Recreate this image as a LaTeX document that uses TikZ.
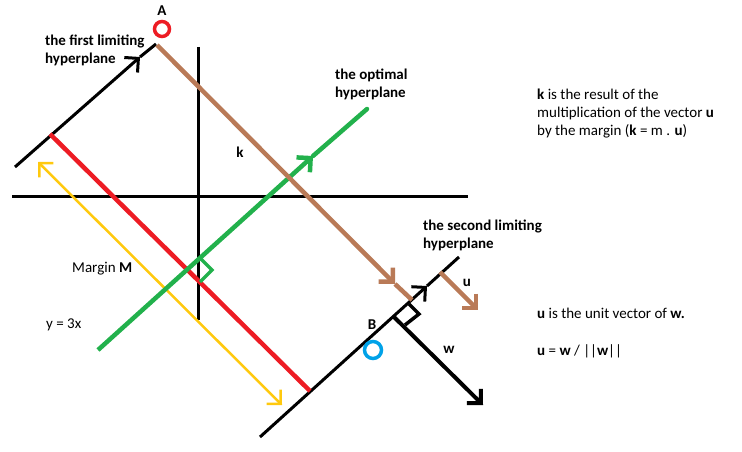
\documentclass[tikz,border=0pt]{standalone}
\usepackage{fontspec}
\setmainfont{Carlito}
\usetikzlibrary{arrows.meta}
\definecolor{pred}{RGB}{237,28,36}
\definecolor{pbrown}{RGB}{185,122,87}
\definecolor{pgreen}{RGB}{34,177,76}
\definecolor{pyellow}{RGB}{255,201,14}
\definecolor{pblue}{RGB}{0,162,232}
\tikzset{
  lbl/.style={inner sep=0pt, font=\fontsize{15}{18}\selectfont, align=left},
  blbl/.style={lbl, font=\fontsize{15}{18}\selectfont\bfseries},
  barb/.style={-{Straight Barb[length=10pt,width=20pt]}},
  thinblack/.style={line width=3pt, black},
  thickln/.style={line width=4.5pt},
}
\begin{document}
\begin{tikzpicture}[x=1pt,y=-1pt]
\useasboundingbox (0,0) rectangle (742,452);
% coordinates
\coordinate (F1) at (15,167); \coordinate (Fm) at (140,57); \coordinate (F2) at (156,44);
\coordinate (V1) at (198,47); \coordinate (V2) at (198,320);
\coordinate (H1) at (12,196); \coordinate (H2) at (468,196);
\coordinate (R1) at (50,134); \coordinate (R2) at (310,391);
\coordinate (K1) at (157,45); \coordinate (Km) at (395,284); \coordinate (K2) at (412,300);
\coordinate (G1) at (98,350); \coordinate (Gm) at (313,156); \coordinate (G2) at (367,109);
\coordinate (Y1) at (38,162); \coordinate (Y2) at (282,405);
\coordinate (S1) at (260,437); \coordinate (Sm) at (427,286); \coordinate (S2) at (459,257);
\coordinate (U1) at (440,272); \coordinate (U2) at (478,310);
\coordinate (W1) at (393,316); \coordinate (W2) at (483,405);
% axes
\draw[thinblack] (V1) -- (V2);
\draw[thinblack] (H1) -- (H2);
% first limiting hyperplane
\draw[thinblack, barb] (F1) -- (Fm);
\draw[thinblack] (Fm) -- (F2);
% second limiting hyperplane
\draw[thinblack, barb] (S1) -- (Sm);
\draw[thinblack] (Sm) -- (S2);
% margin (red)
\draw[pred, thickln] (R1) -- (R2);
% yellow margin arrow
\draw[pyellow, line width=2.5pt, {Straight Barb[length=10pt,width=20pt]}-{Straight Barb[length=10pt,width=20pt]}] (Y1) -- (Y2);
% optimal hyperplane
\draw[pgreen, thickln, barb] (G1) -- (Gm);
\draw[pgreen, thickln, line cap=round] (Gm) -- (G2);
\draw[pgreen, line width=3.5pt] (200,258) -- (212,270) -- (200,282);
% k
\draw[pbrown, thickln, barb] (K1) -- (Km);
\draw[pbrown, thickln] (Km) -- (K2);
% u
\draw[pbrown, thickln, barb] (U1) -- (U2);
% w
\draw[black, line width=4pt, barb] (W1) -- (W2);
\draw[black, line width=3.5pt] (409,304) -- (419,314) -- (405,325);
% points
\node[circle, draw=pred, line width=3.5pt, minimum size=15pt, inner sep=0pt] (A) at (162,29) {};
\node[circle, draw=pblue, line width=3.5pt, minimum size=17pt, inner sep=0pt] (B) at (373,350) {};
\node[blbl] (Al) at (162,11) {A};
\node[blbl] (Bl) at (372,325) {B};
% labels
\node[blbl, anchor=north west] (t1) at (45,35) {the first limiting\\hyperplane};
\node[blbl, anchor=north west] (t2) at (335,69) {the optimal\\hyperplane};
\node[blbl, anchor=north west] (t3) at (423,220) {the second limiting\\hyperplane};
\node[lbl, anchor=north west] (t4) at (537,89) {\textbf{k} is the result of the\\multiplication of the vector \textbf{u}\\by the margin (\textbf{k} = m . \textbf{u})};
\node[lbl, anchor=north west] (t5) at (537,308) {\textbf{u} is the unit vector of \textbf{w.}};
\node[lbl, anchor=north west] (t6) at (537,344) {\textbf{u} = \textbf{w} / ||\textbf{w}||};
\node[blbl] (kl) at (240,152) {k};
\node[blbl] (ul) at (467,283) {u};
\node[blbl] (wl) at (449,350) {w};
\node[lbl, anchor=north west] (ml) at (72,262) {Margin \textbf{M}};
\node[lbl, anchor=north west] (yl) at (46,319) {y = 3x};
\end{tikzpicture}
\end{document}
